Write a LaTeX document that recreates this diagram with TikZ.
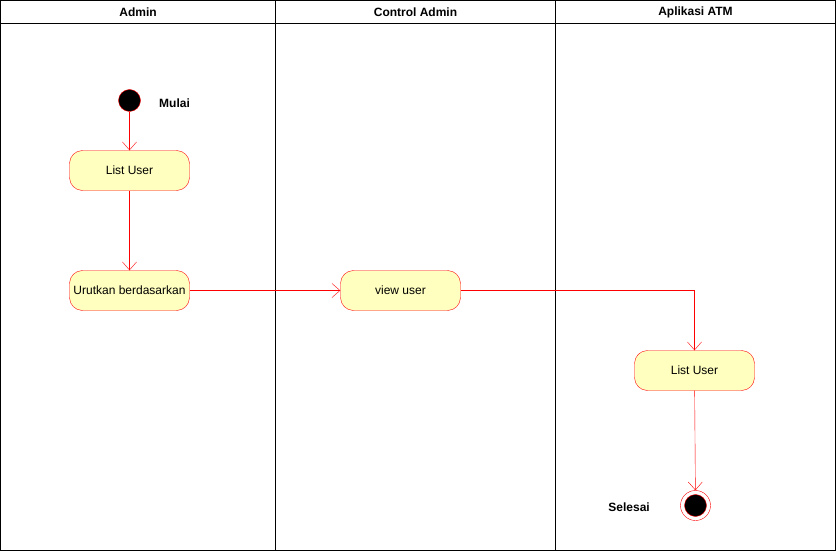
\documentclass[tikz,border=0pt]{standalone}
\usepackage{fontspec}
\setmainfont{Liberation Sans}
\usetikzlibrary{positioning,arrows.meta}
\definecolor{actfill}{HTML}{FFFFC0}
\definecolor{actline}{HTML}{FF0000}
\tikzset{block/.style={draw=actline, fill=actfill, rounded corners=13pt, minimum width=120pt, minimum height=40pt, align=center, font=\fontsize{12}{14}\selectfont},
line/.style={draw=actline, -{Straight Barb[length=8pt,width=14pt]}},
lane/.style={font=\bfseries\fontsize{12}{14}\selectfont},
startnode/.style={circle, draw=actline, fill=black, minimum size=22pt, inner sep=0pt},
endnode/.style={circle, draw=actline, fill=white, minimum size=30pt, inner sep=0pt,
  path picture={\draw [actline, fill=black] (path picture bounding box.center) circle (11pt);}},
tag/.style={font=\bfseries\fontsize{12}{14}\selectfont}
}
\begin{document}
\begin{tikzpicture}[x=1pt, y=1pt, node distance=70pt]
    \useasboundingbox (-0.5,0.5) rectangle (835.5,-550.5);
    % Lanes
    \draw [thick] (0,0) rectangle (835,-550);
    \draw [thick] (0,-23) -- (835,-23);
    \draw [thick] (275,0) -- (275,-550);
    \draw [thick] (555,0) -- (555,-550);
    \node [lane] (admin) at (137.5,-12) {Admin};
    \node [lane] (control) at (415,-12) {Control Admin};
    \node [lane] (atm) at (695,-12) {Aplikasi ATM};
    % Nodes
    \node [startnode] (mulai) at (129,-100) {};
    \node [tag, right=15pt of mulai, yshift=-3pt] (mulaitxt) {Mulai};
    \node [block, below of=mulai] (list) {List User};
    \node [block, below of=list, node distance=120pt] (urutkan) {Urutkan berdasarkan};
    \node [block, right of=urutkan, node distance=271pt] (view) {view user};
    \node [block] (listatm) at (694,-370) {List User};
    \node [endnode] (selesai) at (695,-505) {};
    \node [tag, left=27pt of selesai, yshift=-2pt] (selesaitxt) {Selesai};
    % Arrows
    \draw [line] (mulai) -- (list);
    \draw [line] (list) -- (urutkan);
    \draw [line] (urutkan) -- (view);
    \draw [line] (view) -| (listatm);
    \draw [line] (listatm) -- (selesai);
  \end{tikzpicture}
\end{document}
